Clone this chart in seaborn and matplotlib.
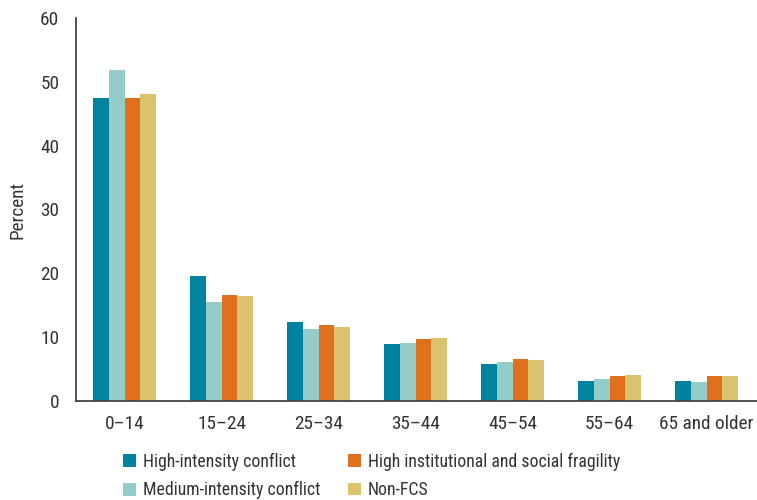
import matplotlib
matplotlib.use("Agg")
import matplotlib.pyplot as plt
from matplotlib import font_manager
from matplotlib.patches import Patch
import seaborn as sns
import pandas as pd
import numpy as np

categories = ["0–14", "15–24", "25–34", "35–44", "45–54", "55–64", "65 and older"]
series_names = ["High-intensity conflict", "Medium-intensity conflict",
                "High institutional and social fragility", "Non-FCS"]
high_intensity = [47.5, 19.6, 12.4, 8.9, 5.8, 3.1, 3.1]
medium_intensity = [51.9, 15.5, 11.3, 9.1, 6.1, 3.4, 3.0]
high_fragility = [47.5, 16.6, 11.9, 9.7, 6.6, 3.9, 3.9]
non_fcs = [48.1, 16.4, 11.6, 9.9, 6.4, 4.1, 3.9]
colors = ["#00839E", "#93CCC9", "#DE701E", "#DAC26E"]
yticks = [0, 10, 20, 30, 40, 50, 60]

sns.set_theme(style="white")
names = {f.name for f in font_manager.fontManager.ttflist}
fam = "Roboto"
for cand in ["Roboto Condensed", "Archivo Narrow", "Fira Sans Condensed", "IBM Plex Sans Condensed"]:
    if cand in names:
        fam = cand
        break
plt.rcParams["font.family"] = [fam, "DejaVu Sans"]

rows = []
for s, vals in zip(series_names, [high_intensity, medium_intensity, high_fragility, non_fcs]):
    for c, v in zip(categories, vals):
        rows.append({"Age": c, "Series": s, "Percent": v})
df = pd.DataFrame(rows)

fig = plt.figure(figsize=(7.57, 5.0), dpi=100)
renderer = fig.canvas.get_renderer()


def width_px(s, size):
    t = fig.text(0, 0, s, fontsize=size)
    w = t.get_window_extent(renderer).width
    t.remove()
    return w


# fit font sizes to measured widths in the reference
fs_tick = 13.5 * 94 / width_px("65 and older", 13.5)
fs_leg_fit = 13.5 * 234 / width_px(series_names[2], 13.5)
fs_leg = 0.5 * (fs_tick + fs_leg_fit)

ax = fig.add_axes([76 / 757, 1 - 401 / 500, 1 - 76 / 757, (401 - 18) / 500])
sns.barplot(data=df, x="Age", y="Percent", hue="Series", hue_order=series_names,
            order=categories, palette=colors, width=0.65, gap=0, saturation=1,
            edgecolor="none", linewidth=0, ax=ax, legend=False)

ax.set_ylim(0, 60)
ax.set_xlim(-0.5, 6.52)
ax.set_yticks(yticks)
ax.set_yticklabels([str(t) for t in yticks], fontsize=fs_tick, color="#333333")
ax.set_xticks(range(len(categories)))
ax.set_xticklabels(categories, fontsize=fs_tick, color="#333333")
ax.tick_params(axis="x", which="major", length=0, pad=10)
ax.set_xticks(np.arange(-0.5, len(categories), 1.0), minor=True)
ax.tick_params(axis="x", which="minor", length=8, width=1.2, color="#555555", direction="out")
ax.tick_params(axis="y", which="major", length=8, width=1.2, color="#555555", direction="out", pad=4)
ax.set_xlabel("")
ax.set_ylabel("Percent", fontsize=fs_tick, color="#333333", labelpad=10)
for sp in ["top", "right"]:
    ax.spines[sp].set_visible(False)
for sp in ["left", "bottom"]:
    ax.spines[sp].set_color("#444444")
    ax.spines[sp].set_linewidth(1.3)
ax.grid(False)

fs_leg_px = fs_leg * 100 / 72
col1_w = max(width_px(series_names[0], fs_leg), width_px(series_names[1], fs_leg))
# handle 13px, pad 7px; col2 handle starts at x=348
handle_len = 13 / fs_leg_px
text_pad = 7 / fs_leg_px
col_space = max(0.8, (348 - (123 + 13 + 7 + col1_w)) / fs_leg_px)
row_gap = (28 - fs_leg_px) / fs_leg_px

handles = [Patch(facecolor=c, edgecolor="none") for c in colors]
fig.legend(handles, series_names, loc="upper left", bbox_to_anchor=(123 / 757, 1 - 453 / 500),
           ncol=2, frameon=False, fontsize=fs_leg, handlelength=handle_len, handleheight=handle_len,
           handletextpad=text_pad, columnspacing=col_space, labelspacing=row_gap, borderaxespad=0,
           borderpad=0, labelcolor="#333333")

fig.savefig("out.png", dpi=100)
